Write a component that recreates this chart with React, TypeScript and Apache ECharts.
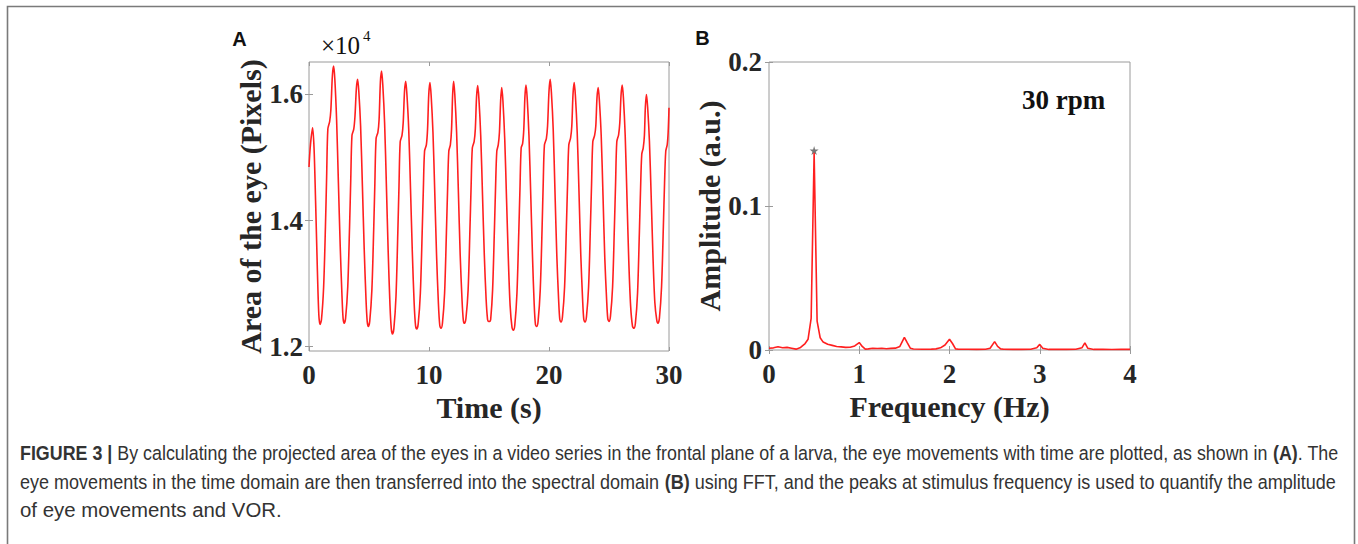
import React, { useEffect, useRef } from "react";
import * as echarts from "echarts";

// Panel A: projected eye area (pixels) over time (s)
const eyeArea: [number, number][] = [
  [0, 14850], [0.12, 15200], [0.3, 15470], [0.42, 15150], [0.55, 14300], [0.7, 13200], [0.82, 12500],
  [0.92, 12350], [1.04, 12430], [1.22, 12950], [1.37, 13900], [1.47, 14700], [1.57, 15450], [1.72, 15570], [1.82, 15750], [1.95, 16300], [2.05, 16450], [2.15, 16250], [2.3, 15600], [2.45, 14600], [2.6, 13600], [2.75, 12800], [2.84, 12450],
  [2.93, 12370], [3.05, 12450], [3.23, 12950], [3.38, 13900], [3.48, 14650], [3.58, 15350], [3.73, 15450], [3.83, 15650], [3.95, 16100], [4.05, 16240], [4.15, 16050], [4.3, 15500], [4.45, 14550], [4.6, 13550], [4.75, 12750], [4.85, 12400],
  [4.94, 12320], [5.06, 12400], [5.24, 12900], [5.39, 13850], [5.49, 14600], [5.59, 15300], [5.74, 15400], [5.84, 15600], [5.95, 16200], [6.05, 16370], [6.15, 16150], [6.3, 15550], [6.45, 14550], [6.6, 13500], [6.75, 12650], [6.86, 12280],
  [6.95, 12200], [7.07, 12280], [7.25, 12800], [7.4, 13800], [7.5, 14550], [7.6, 15250], [7.75, 15350], [7.85, 15550], [7.96, 16050], [8.06, 16210], [8.16, 16000], [8.31, 15450], [8.46, 14500], [8.61, 13500], [8.76, 12700], [8.88, 12330],
  [8.98, 12280], [9.1, 12360], [9.28, 12850], [9.43, 13800], [9.53, 14500], [9.63, 15100], [9.78, 15200], [9.88, 15450], [9.98, 16000], [10.08, 16190], [10.18, 15980], [10.33, 15400], [10.48, 14450], [10.63, 13450], [10.78, 12700], [10.9, 12330],
  [11.0, 12290], [11.12, 12370], [11.3, 12850], [11.45, 13800], [11.55, 14500], [11.65, 15100], [11.78, 15200], [11.88, 15450], [11.97, 16000], [12.05, 16210], [12.15, 16000], [12.3, 15400], [12.45, 14450], [12.6, 13450], [12.75, 12750], [12.86, 12420],
  [12.96, 12370], [13.08, 12450], [13.26, 12900], [13.41, 13850], [13.51, 14550], [13.61, 15150], [13.76, 15250], [13.86, 15450], [13.96, 15950], [14.06, 16140], [14.16, 15930], [14.31, 15350], [14.46, 14400], [14.61, 13450], [14.76, 12750], [14.88, 12430],
  [14.96, 12400], [15.06, 12400], [15.14, 12430], [15.3, 12900], [15.45, 13850], [15.55, 14550], [15.65, 15100], [15.77, 15200], [15.87, 15400], [15.97, 15900], [16.06, 16110], [16.16, 15900], [16.31, 15300], [16.46, 14350], [16.61, 13400], [16.76, 12650], [16.92, 12300],
  [17.03, 12260], [17.15, 12340], [17.33, 12850], [17.48, 13800], [17.58, 14500], [17.68, 15150], [17.8, 15220], [17.9, 15450], [17.99, 15950], [18.08, 16150], [18.18, 15950], [18.33, 15350], [18.48, 14400], [18.63, 13400], [18.76, 12700], [18.87, 12350],
  [18.97, 12320], [19.09, 12400], [19.27, 12900], [19.42, 13850], [19.52, 14600], [19.62, 15200], [19.78, 15300], [19.88, 15500], [20.0, 16050], [20.1, 16240], [20.2, 16030], [20.35, 15450], [20.5, 14450], [20.65, 13450], [20.8, 12750], [20.9, 12430],
  [21.0, 12390], [21.12, 12470], [21.3, 12950], [21.45, 13900], [21.55, 14600], [21.65, 15200], [21.8, 15310], [21.9, 15500], [22.0, 16000], [22.1, 16190], [22.2, 15980], [22.35, 15400], [22.5, 14450], [22.65, 13450], [22.8, 12750], [22.9, 12430],
  [23.0, 12390], [23.12, 12470], [23.3, 12950], [23.45, 13900], [23.55, 14600], [23.65, 15250], [23.8, 15350], [23.9, 15500], [24.0, 15950], [24.1, 16110], [24.2, 15900], [24.35, 15350], [24.5, 14400], [24.65, 13400], [24.8, 12750], [24.9, 12440],
  [25.0, 12400], [25.12, 12480], [25.3, 12950], [25.45, 13900], [25.55, 14600], [25.65, 15250], [25.8, 15360], [25.9, 15550], [26.0, 15980], [26.1, 16150], [26.2, 15950], [26.35, 15350], [26.5, 14350], [26.65, 13350], [26.8, 12650], [26.96, 12320],
  [27.08, 12290], [27.2, 12370], [27.38, 12850], [27.53, 13800], [27.63, 14500], [27.73, 15050], [27.85, 15150], [27.95, 15350], [28.03, 15800], [28.12, 16000], [28.22, 15800], [28.37, 15250], [28.52, 14350], [28.67, 13400], [28.82, 12700], [28.98, 12420],
  [29.08, 12370], [29.2, 12450], [29.38, 12950], [29.53, 13900], [29.63, 14600], [29.73, 15100], [29.85, 15200], [29.93, 15400], [30.0, 15790],
];

// Panel B: FFT amplitude spectrum (Hz, a.u.)
const spectrum: [number, number][] = [
  [0, 0.0012], [0.05, 0.0015], [0.1, 0.0022], [0.15, 0.0016], [0.2, 0.0018], [0.25, 0.0012], [0.3, 0.0006],
  [0.35, 0.0018], [0.4, 0.0045], [0.433, 0.0075], [0.467, 0.022], [0.5, 0.137], [0.533, 0.02], [0.567, 0.0085],
  [0.6, 0.0055], [0.65, 0.004], [0.7, 0.0032], [0.75, 0.0024], [0.8, 0.0022], [0.85, 0.0018], [0.9, 0.0019],
  [0.95, 0.0028], [1.0, 0.0052], [1.033, 0.0025], [1.067, 0.0006], [1.1, 0.0008], [1.15, 0.0012], [1.2, 0.001],
  [1.25, 0.0012], [1.3, 0.0009], [1.35, 0.0011], [1.4, 0.0013], [1.45, 0.0025], [1.5, 0.0088], [1.533, 0.005],
  [1.567, 0.0012], [1.6, 0.0007], [1.7, 0.0005], [1.8, 0.0006], [1.85, 0.0008], [1.9, 0.0015], [1.95, 0.0035],
  [2.0, 0.0075], [2.033, 0.0045], [2.067, 0.0008], [2.1, 0.0005], [2.2, 0.0005], [2.3, 0.0004], [2.4, 0.0005],
  [2.45, 0.0012], [2.5, 0.0058], [2.533, 0.0025], [2.567, 0.0008], [2.6, 0.0005], [2.7, 0.0004], [2.8, 0.0004],
  [2.9, 0.0005], [2.967, 0.0015], [3.0, 0.0039], [3.033, 0.0012], [3.1, 0.0004], [3.2, 0.0004], [3.3, 0.0004],
  [3.4, 0.0005], [3.467, 0.0015], [3.5, 0.005], [3.533, 0.0012], [3.6, 0.0004], [3.7, 0.0004], [3.8, 0.0003],
  [3.9, 0.0004], [4.0, 0.0004],
];

const stimulusPeak: [number, number][] = [[0.5, 0.1385]];

const areaTickValues = [12000, 14000, 16000];

const captionLines = [
  "{b|FIGURE 3 |} By calculating the projected area of the eyes in a video series in the frontal plane of a larva, the eye movements with time are plotted, as shown in {b|(A)}. The",
  "eye movements in the time domain are then transferred into the spectral domain {b|(B)} using FFT, and the peaks at stimulus frequency is used to quantify the amplitude",
  "of eye movements and VOR.",
];
const captionWidths = [1318, 1317, 262];

const STAR =
  "path://M50,0 L61,35 L98,35 L68,57 L79,91 L50,70 L21,91 L32,57 L2,35 L39,35 Z";

const SERIF = "'Liberation Serif', 'Times New Roman', serif";
const SANS = "'Liberation Sans', Arial, sans-serif";
const CAP_SIZE = 19.5;

function measureRich(line: string, size: number): number {
  const canvas = document.createElement("canvas");
  const ctx = canvas.getContext("2d");
  if (!ctx) return line.length * size * 0.5;
  const re = /\{b\|([^}]*)\}/g;
  let last = 0;
  let w = 0;
  let m: RegExpExecArray | null;
  while ((m = re.exec(line))) {
    ctx.font = `${size}px ${SANS}`;
    w += ctx.measureText(line.slice(last, m.index)).width;
    ctx.font = `bold ${size}px ${SANS}`;
    w += ctx.measureText(m[1]).width;
    last = re.lastIndex;
  }
  ctx.font = `${size}px ${SANS}`;
  w += ctx.measureText(line.slice(last)).width;
  return w;
}

const tickLabel = {
  fontFamily: SERIF,
  fontWeight: "bold" as const,
  fontSize: 27,
  color: "#262626",
};
const axisTitle = {
  fontFamily: SERIF,
  fontWeight: "bold" as const,
  fontSize: 30,
  color: "#262626",
};
const tickStyle = { inside: true, length: 4, lineStyle: { color: "#9a9a9a" } };

export default function App() {
  const ref = useRef<HTMLDivElement>(null);
  useEffect(() => {
    if (!ref.current) return;
    const chart = echarts.init(ref.current, null, { renderer: "svg" });

    const captionGraphics = captionLines.map((line, i) => {
      const w = measureRich(line, CAP_SIZE);
      const sx = captionWidths[i] / w;
      return {
        type: "text",
        x: 20,
        y: 453 + i * 28.8,
        scaleX: sx,
        style: {
          text: line,
          fontFamily: SANS,
          fontSize: CAP_SIZE,
          fill: "#333",
          verticalAlign: "middle",
          textAlign: "left",
          rich: { b: { fontWeight: "bold", fontFamily: SANS, fontSize: CAP_SIZE, fill: "#333" } },
        },
      };
    });

    chart.setOption({
      animation: false,
      backgroundColor: "#fff",
      grid: [
        { left: 309, top: 62, width: 360, height: 289, show: true, borderColor: "#9a9a9a", borderWidth: 1, backgroundColor: "transparent" },
        { left: 769, top: 62, width: 361, height: 288, show: true, borderColor: "#9a9a9a", borderWidth: 1, backgroundColor: "transparent" },
      ],
      xAxis: [
        {
          gridIndex: 0, type: "value", min: 0, max: 30, interval: 10, position: "bottom",
          axisLine: { show: false }, axisTick: tickStyle, splitLine: { show: false },
          axisLabel: { ...tickLabel, margin: 10 },
          name: "Time (s)", nameLocation: "middle", nameGap: 40, nameTextStyle: axisTitle,
        },
        {
          gridIndex: 0, type: "value", min: 0, max: 30, interval: 10, position: "top",
          axisLine: { show: false }, axisTick: tickStyle, splitLine: { show: false }, axisLabel: { show: false },
        },
        {
          gridIndex: 1, type: "value", min: 0, max: 4, interval: 1, position: "bottom",
          axisLine: { show: false }, axisTick: tickStyle, splitLine: { show: false },
          axisLabel: { ...tickLabel, margin: 10 },
          name: "Frequency (Hz)", nameLocation: "middle", nameGap: 40, nameTextStyle: axisTitle,
        },
        {
          gridIndex: 1, type: "value", min: 0, max: 4, interval: 1, position: "top",
          axisLine: { show: false }, axisTick: tickStyle, splitLine: { show: false }, axisLabel: { show: false },
        },
      ],
      yAxis: [
        {
          gridIndex: 0, type: "value", min: 11930, max: 16515, position: "left",
          axisLine: { show: false }, splitLine: { show: false },
          axisTick: { ...tickStyle, customValues: areaTickValues },
          axisLabel: { ...tickLabel, margin: 6, customValues: areaTickValues, formatter: (v: number) => (v / 10000).toFixed(1) },
          name: "Area of the eye (Pixels)", nameLocation: "middle", nameGap: 44, nameTextStyle: axisTitle,
        },
        {
          gridIndex: 0, type: "value", min: 11930, max: 16515, position: "right",
          axisLine: { show: false }, splitLine: { show: false },
          axisTick: { ...tickStyle, customValues: areaTickValues },
          axisLabel: { show: false, customValues: areaTickValues },
        },
        {
          gridIndex: 1, type: "value", min: 0, max: 0.2, interval: 0.1, position: "left",
          axisLine: { show: false }, splitLine: { show: false }, axisTick: tickStyle,
          axisLabel: { ...tickLabel, margin: 7, formatter: (v: number) => (v === 0 ? "0" : v.toFixed(1)) },
          name: "Amplitude (a.u.)", nameLocation: "middle", nameGap: 43, nameTextStyle: axisTitle,
        },
        {
          gridIndex: 1, type: "value", min: 0, max: 0.2, interval: 0.1, position: "right",
          axisLine: { show: false }, splitLine: { show: false }, axisTick: tickStyle, axisLabel: { show: false },
        },
      ],
      series: [
        {
          type: "line", xAxisIndex: 0, yAxisIndex: 0, data: eyeArea, showSymbol: false, smooth: 0.3,
          lineStyle: { color: "#ff1f1f", width: 1.6 }, silent: true,
        },
        {
          type: "line", xAxisIndex: 2, yAxisIndex: 2, data: spectrum, showSymbol: false,
          lineStyle: { color: "#ff1f1f", width: 1.6 }, silent: true,
        },
        {
          type: "scatter", xAxisIndex: 2, yAxisIndex: 2, data: stimulusPeak, symbol: STAR, symbolSize: 9,
          itemStyle: { color: "#555" }, silent: true,
        },
      ],
      graphic: [
        {
          type: "polyline",
          shape: { points: [[7.5, 544], [7.5, 6.5], [1354.5, 6.5], [1354.5, 544]] },
          style: { stroke: "#7a7a7a", lineWidth: 1.6, fill: "none" },
          silent: true,
        },
        { type: "text", x: 239.5, y: 39, style: { text: "A", fontFamily: SANS, fontWeight: "bold", fontSize: 20, fill: "#111", textAlign: "center", verticalAlign: "middle" } },
        { type: "text", x: 702.5, y: 38, style: { text: "B", fontFamily: SANS, fontWeight: "bold", fontSize: 20, fill: "#111", textAlign: "center", verticalAlign: "middle" } },
        { type: "text", x: 321, y: 45, style: { text: "×10", fontFamily: SERIF, fontSize: 25, fill: "#111", textAlign: "left", verticalAlign: "middle" } },
        { type: "text", x: 363, y: 36, style: { text: "4", fontFamily: SERIF, fontSize: 15, fill: "#111", textAlign: "left", verticalAlign: "middle" } },
        { type: "text", x: 1022, y: 100, style: { text: "30 rpm", fontFamily: SERIF, fontWeight: "bold", fontSize: 27, fill: "#111", textAlign: "left", verticalAlign: "middle" } },
        ...captionGraphics,
      ],
    });
    return () => chart.dispose();
  }, []);

  return (
    <div
      ref={ref}
      style={{ position: "fixed", left: 0, top: 0, width: 1358, height: 544, background: "#fff" }}
    />
  );
}
